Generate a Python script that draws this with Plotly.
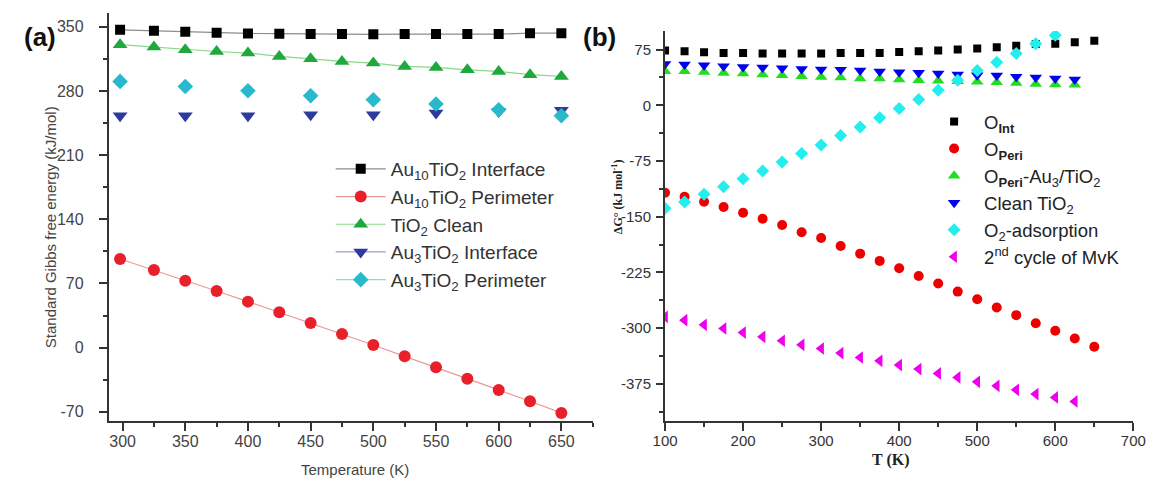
import plotly.graph_objects as go

# ---------------- Panel (a) data ----------------
T_a = [298, 325, 350, 375, 400, 425, 450, 475, 500, 525, 550, 575, 600, 625, 650]
au10_interface = [346.7, 345.6, 344.5, 343.5, 342.7, 342.4, 342.0, 342.0, 341.7, 342.0, 342.0, 342.0, 342.0, 343.0, 343.0]
au10_perimeter = [96.7, 84.7, 73.0, 61.8, 50.2, 38.5, 26.9, 14.9, 2.9, -9.5, -21.5, -33.8, -46.1, -58.5, -71.2]
tio2_clean = [330.4, 327.9, 325.0, 323.0, 321.3, 317.6, 315.0, 312.2, 310.4, 306.7, 305.6, 303.0, 301.3, 297.7, 295.8]
T_a3 = [298, 350, 400, 450, 500, 550, 600, 650]
au3_interface = [253.0, 253.0, 253.0, 254.0, 254.0, 256.0, 257.6, 259.0]
au3_perimeter = [290.4, 284.9, 280.2, 274.8, 270.4, 265.7, 259.5, 253.0]
xticks_a = [300, 350, 400, 450, 500, 550, 600, 650]
yticks_a = [-70, 0, 70, 140, 210, 280, 350]

# ---------------- Panel (b) data ----------------
T_b = [100, 125, 150, 175, 200, 225, 250, 275, 300, 325, 350, 375, 400, 425, 450, 475, 500, 525, 550, 575, 600, 625, 650]
o_int = [73.6, 72.7, 71.4, 70.5, 70.5, 69.6, 69.6, 69.6, 69.6, 70.5, 70.5, 70.5, 71.8, 72.7, 73.6, 75.0, 76.3, 78.0, 80.3, 82.5, 83.0, 84.8, 87.0]
o_peri = [-117.7, -123.1, -129.8, -137.0, -144.6, -152.7, -161.2, -170.8, -178.6, -189.4, -199.7, -209.5, -219.3, -229.7, -240.0, -250.8, -261.0, -272.3, -282.5, -293.3, -303.6, -314.0, -325.1]
T_b2 = [100, 125, 150, 175, 200, 225, 250, 275, 300, 325, 350, 375, 400, 425, 450, 475, 500, 525, 550, 575, 600, 625]
o_peri_au3 = [45.8, 45.8, 44.9, 43.6, 42.7, 41.4, 40.5, 39.1, 38.2, 37.4, 36.0, 36.0, 34.7, 33.7, 33.1, 32.2, 31.8, 31.0, 30.1, 28.8, 27.9, 27.5]
clean_tio2 = [55.7, 54.8, 53.9, 52.6, 51.7, 50.8, 49.9, 49.0, 48.1, 47.7, 46.8, 45.5, 44.6, 43.7, 42.8, 41.4, 40.5, 40.1, 38.3, 37.4, 36.1, 34.7]
T_b3 = [100, 125, 150, 175, 200, 225, 250, 275, 300, 325, 350, 375, 400, 425, 450, 475, 500, 525, 550, 575, 600]
o2_adsorption = [-138.7, -130.2, -119.9, -109.6, -98.9, -88.6, -76.5, -64.8, -53.6, -40.6, -29.2, -16.9, -4.3, 7.8, 20.3, 33.7, 46.8, 57.9, 69.6, 83.0, 94.2]
mvk_2nd = [-284.8, -289.3, -295.5, -300.5, -305.9, -311.7, -317.0, -322.4, -327.4, -333.6, -339.5, -344.0, -349.7, -355.1, -361.0, -366.4, -372.2, -377.6, -383.0, -388.8, -393.3, -398.6]
xticks_b = [100, 200, 300, 400, 500, 600, 700]
yticks_b = [-375, -300, -225, -150, -75, 0, 75]

W, H = 1160, 478


def px(x):
    return x / W


def py(y):
    return 1 - y / H


def labels(vals):
    return [str(v) for v in vals]  # plain hyphen-minus, as in the reference


SANS = "Liberation Sans"
SERIF = "Liberation Serif"

fig = go.Figure()

# ---- panel (a) traces
fig.add_trace(go.Scatter(x=T_a, y=au10_interface, mode="lines+markers", name="Au<sub>10</sub>TiO<sub>2</sub> Interface",
                         line=dict(color="#8c8c8c", width=1.2), marker=dict(symbol="square", size=10, color="#000000"),
                         xaxis="x", yaxis="y", legend="legend"))
fig.add_trace(go.Scatter(x=T_a, y=au10_perimeter, mode="lines+markers", name="Au<sub>10</sub>TiO<sub>2</sub> Perimeter",
                         line=dict(color="#e89a9a", width=1.2), marker=dict(symbol="circle", size=12, color="#e8202a"),
                         xaxis="x", yaxis="y", legend="legend"))
fig.add_trace(go.Scatter(x=T_a, y=tio2_clean, mode="lines+markers", name="TiO<sub>2</sub> Clean",
                         line=dict(color="#8ad88a", width=1.2), marker=dict(symbol="triangle-up", size=13, color="#1fa83c"),
                         xaxis="x", yaxis="y", legend="legend"))
fig.add_trace(go.Scatter(x=T_a3, y=au3_interface, mode="markers", name="Au<sub>3</sub>TiO<sub>2</sub> Interface",
                         marker=dict(symbol="triangle-down", size=13, color="#2e3a9c"),
                         xaxis="x", yaxis="y", showlegend=False))
fig.add_trace(go.Scatter(x=T_a3, y=au3_perimeter, mode="markers", name="Au<sub>3</sub>TiO<sub>2</sub> Perimeter",
                         marker=dict(symbol="diamond", size=12, color="#2ab8cc"),
                         xaxis="x", yaxis="y", showlegend=False))
# legend proxies (the legend shows line + marker for these two)
fig.add_trace(go.Scatter(x=[None], y=[None], mode="lines+markers", name="Au<sub>3</sub>TiO<sub>2</sub> Interface",
                         line=dict(color="#9a9ad8", width=1.2), marker=dict(symbol="triangle-down", size=13, color="#2e3a9c"),
                         xaxis="x", yaxis="y", legend="legend"))
fig.add_trace(go.Scatter(x=[None], y=[None], mode="lines+markers", name="Au<sub>3</sub>TiO<sub>2</sub> Perimeter",
                         line=dict(color="#8ad8e0", width=1.2), marker=dict(symbol="diamond", size=12, color="#2ab8cc"),
                         xaxis="x", yaxis="y", legend="legend"))

# ---- panel (b) traces
fig.add_trace(go.Scatter(x=T_b, y=o_int, mode="markers", name="O<sub><b>Int</b></sub>",
                         marker=dict(symbol="square", size=8, color="#000000"), xaxis="x2", yaxis="y2", legend="legend2"))
fig.add_trace(go.Scatter(x=T_b, y=o_peri, mode="markers", name="O<sub><b>Peri</b></sub>",
                         marker=dict(symbol="circle", size=10, color="#ee0000"), xaxis="x2", yaxis="y2", legend="legend2"))
fig.add_trace(go.Scatter(x=T_b2, y=o_peri_au3, mode="markers", name="O<sub><b>Peri</b></sub>-Au<sub>3</sub>/TiO<sub>2</sub>",
                         marker=dict(symbol="triangle-up", size=11, color="#22dd22"), xaxis="x2", yaxis="y2", legend="legend2"))
fig.add_trace(go.Scatter(x=T_b2, y=clean_tio2, mode="markers", name="Clean TiO<sub>2</sub>",
                         marker=dict(symbol="triangle-down", size=11, color="#0000ee"), xaxis="x2", yaxis="y2", legend="legend2"))
fig.add_trace(go.Scatter(x=T_b3, y=o2_adsorption, mode="markers", name="O<sub>2</sub>-adsorption",
                         marker=dict(symbol="diamond", size=10, color="#22eeee"), xaxis="x2", yaxis="y2", legend="legend2"))
fig.add_trace(go.Scatter(x=T_b2, y=mvk_2nd, mode="markers", name="2<sup>nd</sup> cycle of MvK",
                         marker=dict(symbol="triangle-left", size=11, color="#ee00ee"), xaxis="x2", yaxis="y2", legend="legend2"))

axis_common = dict(showgrid=False, zeroline=False, showline=True, linewidth=2, linecolor="#333333",
                   ticks="outside", tickcolor="#333333", tickwidth=1.5, mirror=False)


def ann(text, x, y, size, family=SANS, color="#444444", angle=0):
    return dict(text=text, x=px(x), y=py(y), xref="paper", yref="paper", showarrow=False,
                xanchor="center", yanchor="middle", textangle=angle,
                font=dict(family=family, size=size, color=color))


fig.update_layout(
    width=W, height=H,
    margin=dict(l=0, r=0, t=0, b=0),
    paper_bgcolor="white", plot_bgcolor="white",
    font=dict(family=SANS, color="#444444"),
    xaxis=dict(domain=[px(98), px(593)], range=[289, 675], anchor="y",
               tickvals=xticks_a, ticktext=labels(xticks_a),
               ticklen=8, minor=dict(dtick=25, tick0=300, ticklen=4, ticks="outside", tickcolor="#333333"),
               tickfont=dict(family=SANS, size=16, color="#444444"), ticklabelstandoff=-3, **axis_common),
    yaxis=dict(domain=[py(421), py(13)], range=[-80, 365], anchor="x",
               tickvals=yticks_a, ticktext=labels(yticks_a),
               ticklen=8, minor=dict(dtick=35, tick0=0, ticklen=4, ticks="outside", tickcolor="#333333"),
               tickfont=dict(family=SANS, size=16, color="#444444"), ticklabelstandoff=12, **axis_common),
    xaxis2=dict(domain=[px(667), px(1146)], range=[100, 700], anchor="y2",
                tickvals=xticks_b, ticktext=labels(xticks_b),
                ticklen=8, minor=dict(dtick=50, tick0=100, ticklen=4, ticks="outside", tickcolor="#333333"),
                tickfont=dict(family=SANS, size=15, color="#333333"), ticklabelstandoff=-3, **axis_common),
    yaxis2=dict(domain=[py(421), py(31)], range=[-425, 100], anchor="x2",
                tickvals=yticks_b, ticktext=labels(yticks_b),
                ticklen=7, minor=dict(dtick=37.5, tick0=0, ticklen=4, ticks="outside", tickcolor="#333333"),
                tickfont=dict(family=SANS, size=15, color="#333333"), ticklabelstandoff=2, **axis_common),
    legend=dict(x=px(325), y=py(150), xanchor="left", yanchor="top", bgcolor="rgba(0,0,0,0)",
                font=dict(family=SANS, size=19, color="#333333"), itemwidth=50, tracegroupgap=0),
    legend2=dict(x=px(932), y=py(103), xanchor="left", yanchor="top", bgcolor="rgba(0,0,0,0)",
                 font=dict(family=SANS, size=18.5, color="#222222"), itemwidth=50, tracegroupgap=0),
    annotations=[
        ann("<b>(a)</b>", 28, 37, 26, color="#111111"),
        ann("<b>(b)</b>", 600, 37, 26, color="#111111"),
        ann("Standard Gibbs free energy (kJ/mol)", 38, 227, 15, angle=-90),
        ann("Temperature (K)", 350, 469, 15),
        ann("<b>ΔG° (kJ mol<sup>-1</sup>)</b>", 618, 197, 12, family=SERIF, color="#222222", angle=-90),
        ann("<b>T (K)</b>", 898, 460, 16, family=SERIF, color="#222222"),
    ],
)

fig.write_html("out.html")
